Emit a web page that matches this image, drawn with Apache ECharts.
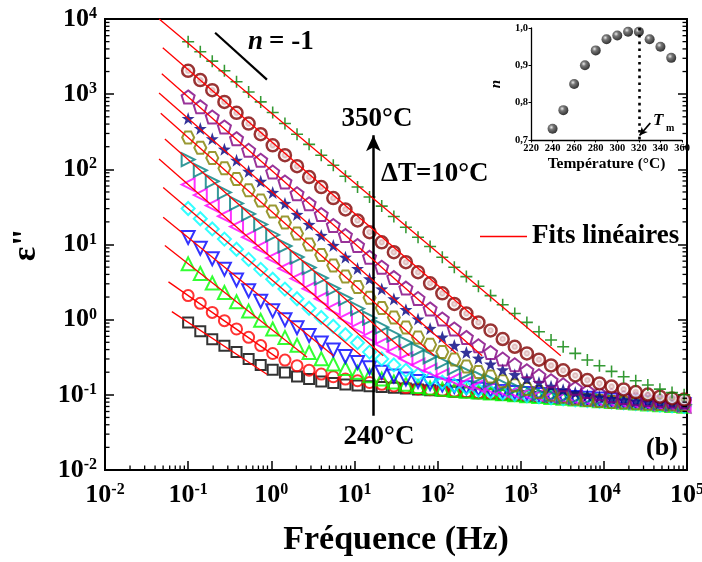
<!DOCTYPE html>
<html><head><meta charset="utf-8">
<script src="https://cdn.jsdelivr.net/npm/echarts@6/dist/echarts.min.js"></script>
<style>html,body{margin:0;padding:0;background:#fff}#c{width:702px;height:562px}</style>
</head><body><div id="c"></div>
<script>
// ---------- data ----------
const freq = [0.1,0.14,0.195,0.273,0.382,0.534,0.746,1.04,1.46,2.04,2.85,3.99,5.57,7.79,10.9,15.2,21.3,29.8,41.6,58.2,81.3,114,159,222,310,434,607,848,1186,1658,2317,3240,4529,6331,8851,12374,17298,24182,33807,47260,66069,92365];
const e240 = [0.92,0.70,0.55,0.45,0.37,0.30,0.25,0.215,0.198,0.175,0.162,0.150,0.144,0.137,0.133,0.130,0.127,0.124,0.121,0.118,0.115,0.113,0.110,0.108,0.105,0.103,0.100,0.098,0.0956,0.0934,0.0913,0.0892,0.0872,0.0852,0.0832,0.0813,0.0795,0.0777,0.0759,0.0742,0.0725,0.0708];
const e250 = [2.09,1.65,1.25,0.97,0.752,0.582,0.452,0.355,0.29,0.244,0.213,0.189,0.174,0.162,0.154,0.146,0.138,0.131,0.125,0.12,0.117,0.114,0.111,0.109,0.106,0.104,0.101,0.099,0.0965,0.094,0.092,0.09,0.088,0.086,0.084,0.082,0.080,0.078,0.0765,0.075,0.0733,0.0716];
const e260 = [5.53,4.12,3.08,2.30,1.73,1.30,0.98,0.75,0.581,0.457,0.366,0.302,0.257,0.224,0.20,0.18,0.162,0.148,0.138,0.129,0.123,0.119,0.115,0.112,0.109,0.106,0.103,0.1,0.0975,0.095,0.0925,0.0902,0.088,0.0858,0.0837,0.0816,0.0796,0.0777,0.0758,0.074,0.0723,0.0707];
const e270 = [12.4,8.91,6.46,4.70,3.37,2.43,1.76,1.31,1.0,0.78,0.617,0.49,0.394,0.324,0.269,0.229,0.20,0.178,0.162,0.15,0.141,0.135,0.129,0.124,0.119,0.115,0.111,0.107,0.104,0.101,0.098,0.095,0.0925,0.09,0.0877,0.0855,0.0833,0.0812,0.0792,0.0773,0.0755,0.0738];
const e280 = [30.1,22.0,16.1,11.8,8.64,6.34,4.67,3.45,2.55,1.90,1.42,1.07,0.818,0.631,0.494,0.37,0.30,0.25,0.212,0.185,0.163,0.147,0.134,0.124,0.116,0.11,0.105,0.101,0.097,0.094,0.091,0.0885,0.086,0.084,0.082,0.080,0.078,0.0762,0.0745,0.0728,0.0712,0.0697];
const e290 = [62.7,45.4,32.9,23.8,17.3,12.5,9.07,6.60,4.81,3.52,2.58,1.90,1.41,1.05,0.797,0.61,0.474,0.375,0.302,0.249,0.211,0.181,0.159,0.143,0.131,0.122,0.114,0.108,0.103,0.0985,0.095,0.0919,0.0891,0.0866,0.0842,0.082,0.0799,0.0779,0.076,0.0743,0.0726,0.071];
const e300 = [135,97.0,69.2,49.3,35.2,25.5,18.5,13.4,9.55,6.81,4.93,3.57,2.59,1.91,1.40,1.05,0.794,0.621,0.493,0.398,0.321,0.27,0.227,0.198,0.174,0.154,0.136,0.123,0.112,0.103,0.098,0.095,0.0925,0.09,0.0877,0.0855,0.0833,0.0812,0.0792,0.0773,0.0755,0.0738];
const e310 = [265,194,142,103,74.6,52.5,38.6,27.5,19.6,14.0,10.0,7.24,5.25,3.74,2.71,1.96,1.43,1.07,0.789,0.581,0.465,0.371,0.296,0.238,0.201,0.175,0.152,0.134,0.120,0.109,0.100,0.094,0.089,0.0855,0.0825,0.0805,0.079,0.0775,0.0763,0.0753,0.0745,0.0738];
const e320 = [474,349,255,185,132,94.0,69.2,49.3,35.2,25.1,18.5,13.2,9.70,6.78,4.79,3.49,2.56,1.89,1.36,1.02,0.764,0.587,0.454,0.366,0.307,0.256,0.215,0.185,0.163,0.146,0.13,0.117,0.107,0.099,0.0935,0.0891,0.0855,0.0826,0.0804,0.0785,0.0771,0.0759];
const e330 = [920,678,498,366,256,179,132,92.0,67.8,47.4,34.9,25.1,17.9,13.2,9.70,6.78,4.98,3.63,2.63,1.91,1.39,1.02,0.752,0.581,0.45,0.366,0.299,0.251,0.209,0.179,0.154,0.136,0.122,0.111,0.103,0.097,0.092,0.0885,0.087,0.085,0.083,0.081];
const e340 = [2046,1538,1130,789,564,406,293,209,154,110,78.9,58.1,41.4,29.3,20.9,14.6,10.7,7.89,5.81,4.28,3.05,2.24,1.62,1.21,0.92,0.72,0.553,0.436,0.356,0.294,0.246,0.212,0.181,0.157,0.142,0.129,0.118,0.109,0.101,0.0946,0.0897,0.0865];
const e350 = [4980,3660,2750,2050,1460,1070,789,570,406,293,215,154,113,80.7,58.1,42.8,32.4,23.6,17.0,12.5,9.40,6.78,4.98,3.74,2.79,2.09,1.58,1.21,0.92,0.69,0.536,0.436,0.356,0.29,0.244,0.205,0.174,0.154,0.135,0.119,0.107,0.100];

// linear fits (log-log): start / end points, ordered 240 ... 350 °C
const fitStartF = [0.0637,0.058,0.0525,0.0501,0.0501,0.0447,0.0525,0.0468,0.0447,0.0482,0.0495,0.0448];
const fitStartV = [1.28,3.18,9.7,23.1,57.3,137,253,557,1038,1875,4140,10000];
const fitEndF = [0.895,1.2,2.69,5.6,12.05,22.2,45.9,91.6,166,343.6,303,3034];
const fitEndV = [0.186,0.308,0.316,0.331,0.331,0.331,0.331,0.331,0.36,0.331,1.0,0.331];

// n = -1 guide and temperature arrow
const slopeGuideF = [0.211,0.887];
const slopeGuideV = [6560,1560];
const arrowF = 16.9;
const arrowV = [0.0525,284];

// inset
const tempC = [240,250,260,270,280,290,300,310,320,330,340,350];
const nExp = [0.73,0.78,0.85,0.90,0.94,0.97,0.98,0.99,0.99,0.97,0.95,0.92];
const tmLine = 320;

// axis ranges
const xMin = 0.01, xMax = 100000, yMin = 0.01, yMax = 10000;
const xDecades = [-2,-1,0,1,2,3,4];
const yDecades = [-2,-1,0,1,2,3];

// ---------- styling ----------
const F = '"Liberation Serif", "DejaVu Serif", serif';
const chart = echarts.init(document.getElementById('c'), null, {renderer:'canvas'});

const sets = [
  {d:e240, c:'#000000', s:'rect', size:10, rot:0},
  {d:e250, c:'#ff0000', s:'circle', size:11, rot:0},
  {d:e260, c:'#00ff00', s:'triangle', size:13, rot:0},
  {d:e270, c:'#0000ff', s:'triangle', size:13, rot:180},
  {d:e280, c:'#00ffff', s:'diamond', size:13, rot:0},
  {d:e290, c:'#ff00ff', s:'triangle', size:13, rot:90},
  {d:e300, c:'#008080', s:'triangle', size:13, rot:-90},
  {d:e310, c:'#808000', s:'path://M-1,0 L-0.5,-0.866 L0.5,-0.866 L1,0 L0.5,0.866 L-0.5,0.866 Z', size:12, rot:0},
  {d:e320, c:'#000080', s:'path://M0,-1 L0.235,-0.324 L0.951,-0.309 L0.380,0.124 L0.588,0.809 L0,0.4 L-0.588,0.809 L-0.380,0.124 L-0.951,-0.309 L-0.235,-0.324 Z', size:13, rot:0, fill:true},
  {d:e330, c:'#800080', s:'path://M0,-1 L0.951,-0.309 L0.588,0.809 L-0.588,0.809 L-0.951,-0.309 Z', size:13, rot:0},
  {d:e340, c:'#800000', s:'circle', size:12, rot:0, ball:true},
  {d:e350, c:'#008000', s:'path://M-0.13,-1 L0.13,-1 L0.13,-0.13 L1,-0.13 L1,0.13 L0.13,0.13 L0.13,1 L-0.13,1 L-0.13,0.13 L-1,0.13 L-1,-0.13 L-0.13,-0.13 Z', size:12, rot:0, fill:true}
];

const series = [];
sets.forEach(function(st, i){
  let item;
  if (st.fill) item = {color: st.c, borderWidth: 0};
  else if (st.ball) item = {color: {type:'radial', x:0.5, y:0.5, r:0.5, colorStops:[{offset:0,color:'#f2dede'},{offset:0.3,color:'#d6a8a8'},{offset:0.55,color:'#ffffff'},{offset:1,color:'#ffffff'}]}, borderColor: st.c, borderWidth: 2.5};
  else item = {color: 'rgba(255,255,255,0)', borderColor: st.c, borderWidth: 2};
  series.push({
    type:'scatter', xAxisIndex:0, yAxisIndex:0, name:'T'+tempC[i],
    data: freq.map(function(f, k){ return [f, st.d[k]]; }),
    symbol: st.s, symbolSize: st.size, symbolRotate: st.rot,
    itemStyle: item, z: 2 + i*0.01, silent:true
  });
});
for (let i = 0; i < fitStartF.length; i++) {
  series.push({
    type:'line', name:'Fits linéaires', xAxisIndex:0, yAxisIndex:0,
    data:[[fitStartF[i], fitStartV[i]],[fitEndF[i], fitEndV[i]]],
    symbol:'none', lineStyle:{color:'#ff0000', width:1.3}, itemStyle:{color:'#ff0000'}, z:5, silent:true
  });
}
// guide line n=-1 and arrow, via markLine in data coordinates
series.push({
  type:'line', name:'guides', xAxisIndex:0, yAxisIndex:0, data:[], symbol:'none', silent:true,
  markLine:{
    silent:true, animation:false, label:{show:false}, symbol:['none','none'],
    data:[
      [{coord:[slopeGuideF[0], slopeGuideV[0]], lineStyle:{color:'#000', width:2.2, type:'solid'}},
       {coord:[slopeGuideF[1], slopeGuideV[1]]}],
      [{coord:[arrowF, arrowV[0]], symbol:'none', lineStyle:{color:'#000', width:2.5, type:'solid'}},
       {coord:[arrowF, arrowV[1]], symbol:'arrow', symbolSize:[11,16]}]
    ]
  }
});
// minor log ticks (main frame)
const minorData = [];
xDecades.forEach(function(d){ for (let m = 2; m <= 9; m++) minorData.push([m*Math.pow(10,d), yMin, 0]); });
yDecades.forEach(function(d){ for (let m = 2; m <= 9; m++) minorData.push([xMin, m*Math.pow(10,d), 1]); });
series.push({
  type:'custom', name:'minor', xAxisIndex:0, yAxisIndex:0, silent:true, clip:false,
  encode:{x:0, y:1}, data: minorData, z:6,
  renderItem: function(params, api){
    const st = {stroke:'#000', lineWidth:1.3};
    if (api.value(2) === 0) {
      const p = api.coord([api.value(0), yMin]);
      return {type:'line', shape:{x1:p[0], y1:p[1], x2:p[0], y2:p[1]-4.5}, style:st};
    }
    const p = api.coord([xMin, api.value(1)]);
    const q = api.coord([xMax, api.value(1)]);
    return {type:'group', children:[
      {type:'line', shape:{x1:p[0], y1:p[1], x2:p[0]+4.5, y2:p[1]}, style:st},
      {type:'line', shape:{x1:q[0], y1:q[1], x2:q[0]-4.5, y2:q[1]}, style:st}
    ]};
  }
});
// inset series
series.push({
  type:'scatter', name:'n', xAxisIndex:1, yAxisIndex:2,
  data: tempC.map(function(t, i){ return [t, nExp[i]]; }),
  symbol:'circle', symbolSize:10, silent:true,
  itemStyle:{color:{type:'radial', x:0.38, y:0.35, r:0.65, colorStops:[{offset:0,color:'#e8e8e8'},{offset:0.35,color:'#555'},{offset:1,color:'#000'}]}},
  markLine:{
    silent:true, animation:false, label:{show:false}, symbol:['none','none'],
    data:[
      [{coord:[tmLine, 1.0], lineStyle:{color:'#000', width:2.6, type:[2.6,4.2]}}, {coord:[tmLine, 0.7]}],
      [{coord:[330.6, 0.7455], symbol:'none', lineStyle:{color:'#000', width:1.8, type:'solid'}}, {coord:[320.6, 0.712], symbol:'arrow', symbolSize:[6,8]}]
    ]
  }
});

const supRich = {
  b:{fontSize:26, fontWeight:'bold', fontFamily:F, color:'#000'},
  s:{fontSize:16, fontWeight:'bold', fontFamily:F, color:'#000', verticalAlign:'top', lineHeight:16}
};
function powLabel(v){ return '{b|10}{s|' + Math.round(Math.log10(v)) + '}'; }

const option = {
  animation:false,
  backgroundColor:'#fff',
  grid:[
    {left:105, right:15, top:19, bottom:92, show:true, borderColor:'#000', borderWidth:2, backgroundColor:'rgba(0,0,0,0)', outerBoundsMode:'none', containLabel:false},
    {left:531, right:20, top:28, bottom:422, show:false, outerBoundsMode:'none', containLabel:false}
  ],
  legend:{
    data:[{name:'Fits linéaires', icon:'rect'}],
    left:480, top:223, padding:0, itemWidth:47, itemHeight:1.6, selectedMode:false,
    textStyle:{fontFamily:F, fontWeight:'bold', fontSize:27, color:'#000'}
  },
  xAxis:[
    {type:'log', logBase:10, gridIndex:0, min:xMin, max:xMax,
     name:'Fréquence (Hz)', nameLocation:'middle', nameGap:53,
     nameTextStyle:{fontFamily:F, fontWeight:'bold', fontSize:34, color:'#000'},
     axisLine:{show:true, lineStyle:{color:'#000', width:2}},
     axisTick:{show:true, inside:true, length:9, lineStyle:{color:'#000', width:1.5}},
     minorTick:{show:false}, splitLine:{show:false}, minorSplitLine:{show:false},
     axisLabel:{margin:12, formatter:powLabel, rich:supRich}},
    {type:'value', gridIndex:1, min:220, max:360, interval:20,
     name:'Température (°C)', nameLocation:'middle', nameGap:16,
     nameTextStyle:{fontFamily:F, fontWeight:'bold', fontSize:15.5, color:'#000'},
     axisLine:{show:true, lineStyle:{color:'#000', width:1.3}},
     axisTick:{show:true, inside:false, length:2.5, lineStyle:{color:'#000', width:1}},
     splitLine:{show:false},
     axisLabel:{margin:3, fontFamily:F, fontWeight:'bold', fontSize:10.5, color:'#000'}}
  ],
  yAxis:[
    {type:'log', logBase:10, gridIndex:0, min:yMin, max:yMax,
     name:'ε"', nameLocation:'middle', nameGap:62, nameRotate:90,
     nameTextStyle:{fontFamily:F, fontWeight:'bold', fontSize:34, color:'#000'},
     axisLine:{show:true, lineStyle:{color:'#000', width:2}},
     axisTick:{show:true, inside:true, length:9, lineStyle:{color:'#000', width:1.5}},
     minorTick:{show:false}, splitLine:{show:false}, minorSplitLine:{show:false},
     axisLabel:{margin:8, formatter:powLabel, rich:supRich}},
    {type:'log', logBase:10, gridIndex:0, min:yMin, max:yMax, position:'right',
     axisLine:{show:true, lineStyle:{color:'#000', width:2}},
     axisTick:{show:true, inside:true, length:9, lineStyle:{color:'#000', width:1.5}},
     minorTick:{show:false}, splitLine:{show:false}, axisLabel:{show:false}},
    {type:'value', gridIndex:1, min:0.7, max:1.0, interval:0.1,
     name:'n', nameLocation:'middle', nameGap:27, nameRotate:90,
     nameTextStyle:{fontFamily:F, fontWeight:'bold', fontStyle:'italic', fontSize:15, color:'#000'},
     axisLine:{show:true, lineStyle:{color:'#000', width:1.3}},
     axisTick:{show:true, inside:false, length:2.5, lineStyle:{color:'#000', width:1}},
     splitLine:{show:false},
     axisLabel:{margin:3, fontFamily:F, fontWeight:'bold', fontSize:10.5, color:'#000',
       formatter:function(v){ return v.toFixed(1).replace('.', ','); }}}
  ],
  graphic:[
    {type:'text', x:248, y:42, silent:true, style:{text:'n', font:'italic bold 27px ' + F, fill:'#000', textAlign:'left', textVerticalAlign:'middle'}},
    {type:'text', x:269, y:42, silent:true, style:{text:'= -1', font:'bold 27px ' + F, fill:'#000', textAlign:'left', textVerticalAlign:'middle'}},
    {type:'text', x:377, y:119, silent:true, style:{text:'350°C', font:'bold 27px ' + F, fill:'#000', textAlign:'center', textVerticalAlign:'middle'}},
    {type:'text', x:381, y:174, silent:true, style:{text:'ΔT=10°C', font:'bold 27px ' + F, fill:'#000', textAlign:'left', textVerticalAlign:'middle'}},
    {type:'text', x:379, y:437, silent:true, style:{text:'240°C', font:'bold 27px ' + F, fill:'#000', textAlign:'center', textVerticalAlign:'middle'}},
    {type:'text', x:662, y:448, silent:true, style:{text:'(b)', font:'bold 26px ' + F, fill:'#000', textAlign:'center', textVerticalAlign:'middle'}},
    {type:'text', x:653, y:121, silent:true, style:{text:'T', font:'italic bold 17px ' + F, fill:'#000', textAlign:'left', textVerticalAlign:'middle'}},
    {type:'text', x:666, y:128, silent:true, style:{text:'m', font:'bold 10px ' + F, fill:'#000', textAlign:'left', textVerticalAlign:'middle'}}
  ],
  series: series
};
chart.setOption(option);
</script></body></html>
